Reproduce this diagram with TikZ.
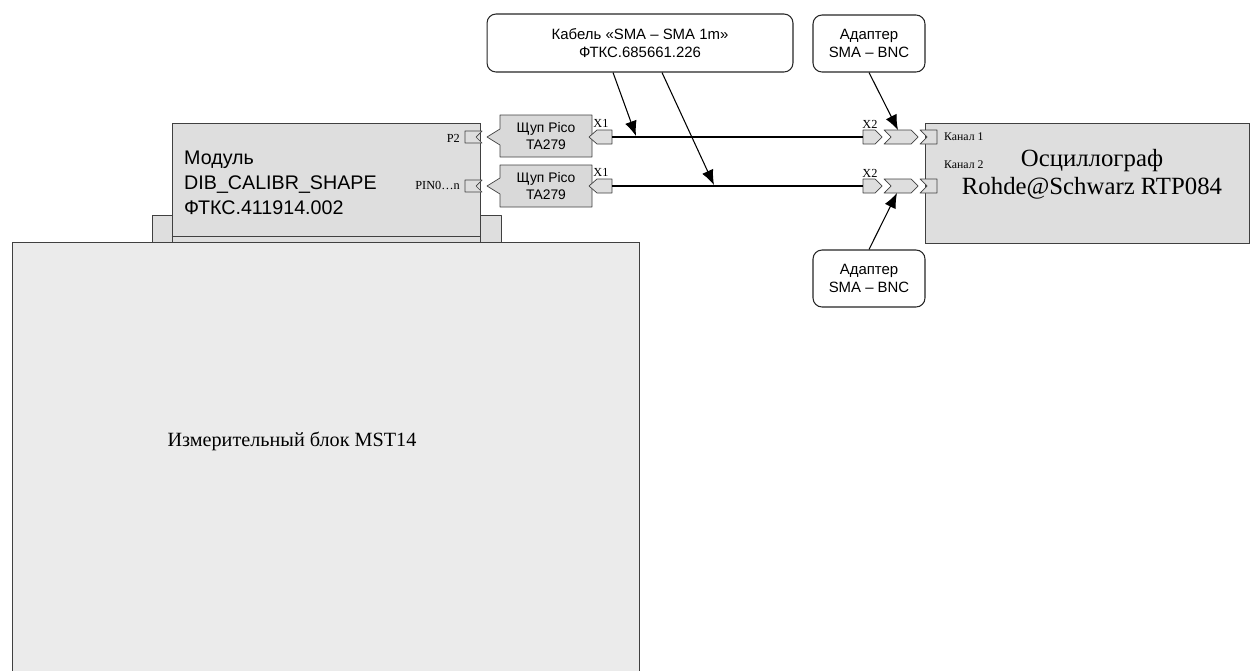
\documentclass[tikz,border=0pt]{standalone}
\usepackage{fontspec}
\setmainfont{Liberation Serif}
\setsansfont{Liberation Sans}
\usepackage{tikz}
\usetikzlibrary{arrows.meta,positioning,calc}
\tikzset{
  unit/.style={rectangle, draw=black!75, fill=black!13, inner sep=0pt},
  plug/.style={draw=black!75, fill=black!13, line join=round},
  callout/.style={rectangle, rounded corners=1.8mm, draw=black!85, fill=white, semithick,
    align=center, font=\sffamily\fontsize{8.5}{10}\selectfont},
  pin/.style={font=\fontsize{7}{8}\selectfont, inner sep=0.5pt},
  arr/.style={-{Latex[length=3mm,width=2.4mm]}, semithick},
  cable/.style={line width=1.3pt},
}

\begin{document}
\begin{tikzpicture}[x=0.02cm, y=-0.02cm]
  \useasboundingbox (0,0) rectangle (1251,670);

  % measuring block and module
  \node[unit, fill=black!8, minimum width=12.54cm, minimum height=8.7cm] (mst) at (325.5,459.5) {};
  \node[font=\fontsize{11.5}{13}\selectfont] (mstlbl) at (292,441) {Измерительный блок MST14};
  \draw[plug] (152,215) rectangle (172,242);
  \draw[plug] (480,215) rectangle (501,242);
  \node[unit, minimum width=6.16cm, minimum height=2.38cm] (dib) at (326,182.5) {};
  \draw[black!75] ([yshift=0.12cm]dib.south west) -- ([yshift=0.12cm]dib.south east);
  \node[anchor=north west, align=left, font=\sffamily\fontsize{11.2}{14.2}\selectfont] (dibtxt) at (178,145)
    {Модуль\\DIB\_CALIBR\_SHAPE\\ФТКС.411914.002};
  \node[pin, anchor=east] (p2) at (461,138) {P2};
  \node[pin, anchor=east] (pin0) at (461,185) {PIN0\dots n};

  % oscilloscope
  \node[unit, minimum width=6.48cm, minimum height=2.4cm] (rtp) at (1087,183) {};
  \node[align=center, font=\fontsize{14.1}{15.9}\selectfont] (rtptxt) at (1092,174)
    {Осциллограф\\Rohde@Schwarz RTP084};
  \node[pin, anchor=west, font=\fontsize{6.7}{8}\selectfont] (ch1) at (943,137) {Канал 1};
  \node[pin, anchor=west, font=\fontsize{6.7}{8}\selectfont] (ch2) at (943,165) {Канал 2};

  % channel 1
  \draw[plug] (465,131) -- (482,131) -- (476,137) -- (482,143) -- (465,143) -- cycle;
  \draw[plug, fill=black!15] (500,115) -- (592,115) -- (592,157) -- (500,157) -- (500,145) -- (487,137) -- (500,129) -- cycle;
  \node[font=\sffamily\fontsize{7.9}{9.4}\selectfont, align=center] (pico1) at (546,136) {Щуп Pico\\TA279};
  \draw[plug] (612,130) -- (597,130) -- (589,137) -- (597,144) -- (612,144) -- cycle;
  \node[pin] (x1a) at (601,123) {X1};
  \draw[plug] (863,130) -- (875,130) -- (882,137) -- (875,144) -- (863,144) -- cycle;
  \node[pin] (x2a) at (870,124) {X2};
  \draw[plug] (884,130) -- (911,130) -- (918,137) -- (911,144) -- (884,144) -- (891,137) -- cycle;
  \draw[plug] (920,130) -- (937,130) -- (937,144) -- (920,144) -- (927,137) -- cycle;
  \coordinate (c1l) at (612,137);
  \coordinate (c1r) at (863,137);
  \draw[cable] (c1l) -- (c1r);

  % channel 2
  \draw[plug] (465,180) -- (482,180) -- (476,186) -- (482,192) -- (465,192) -- cycle;
  \draw[plug, fill=black!15] (500,165) -- (592,165) -- (592,207) -- (500,207) -- (500,194) -- (487,186) -- (500,178) -- cycle;
  \node[font=\sffamily\fontsize{7.9}{9.4}\selectfont, align=center] (pico2) at (546,186) {Щуп Pico\\TA279};
  \draw[plug] (612,179) -- (597,179) -- (589,186) -- (597,193) -- (612,193) -- cycle;
  \node[pin] (x1b) at (601,172) {X1};
  \draw[plug] (863,179) -- (875,179) -- (882,186) -- (875,193) -- (863,193) -- cycle;
  \node[pin] (x2b) at (870,173) {X2};
  \draw[plug] (884,179) -- (911,179) -- (918,186) -- (911,193) -- (884,193) -- (891,186) -- cycle;
  \draw[plug] (920,179) -- (937,179) -- (937,193) -- (920,193) -- (927,186) -- cycle;
  \coordinate (c2l) at (612,186);
  \coordinate (c2r) at (863,186);
  \draw[cable] (c2l) -- (c2r);

  % callouts
  \node[callout, minimum width=6.12cm, minimum height=1.16cm] (kab) at (640,43)
    {Кабель «SMA – SMA 1m»\\ФТКС.685661.226};
  \node[callout, minimum width=2.24cm, minimum height=1.14cm] (adtop) at (869,43.5) {Адаптер\\SMA – BNC};
  \node[callout, minimum width=2.24cm, minimum height=1.14cm] (adbot) at (869,278.5) {Адаптер\\SMA – BNC};
  \coordinate (t1) at (636,136);
  \coordinate (t2) at (714,185);
  \coordinate (t3) at (898,130);
  \coordinate (t4) at (897,193);
  \draw[arr] ([xshift=-0.54cm]kab.south) -- (t1);
  \draw[arr] ([xshift=0.44cm]kab.south) -- (t2);
  \draw[arr] (adtop.south) -- (t3);
  \draw[arr] (adbot.north) -- (t4);
\end{tikzpicture}
\end{document}
